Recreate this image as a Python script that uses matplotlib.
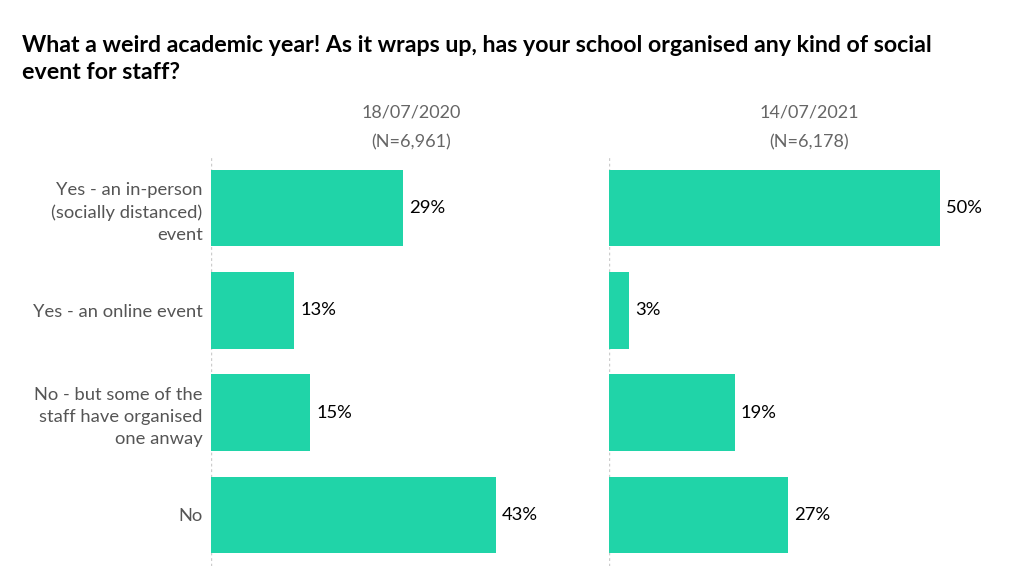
import matplotlib
matplotlib.use("Agg")
import matplotlib.pyplot as plt

categories = ["Yes - an in-person\n(socially distanced)\nevent", "Yes - an online event",
              "No - but some of the\nstaff have organised\none anway", "No"]
dates = ["18/07/2020", "14/07/2021"]
ns = ["(N=6,961)", "(N=6,178)"]
values_2020 = [29, 12.6, 15, 43]
values_2021 = [50, 3, 19, 27]
labels_2020 = ["29%", "13%", "15%", "43%"]
labels_2021 = ["50%", "3%", "19%", "27%"]
title = "What a weird academic year! As it wraps up, has your school organised any kind of social\nevent for staff?"

plt.rcParams['font.family'] = ['Lato', 'DejaVu Sans']
W, H = 1024, 585
fig = plt.figure(figsize=(W/100, H/100), dpi=100)
color = "#20D4A8"

def px(x0, y0, x1, y1):
    return [x0/W, 1 - y1/H, (x1-x0)/W, (y1-y0)/H]

panels = [(211, values_2020, labels_2020), (609, values_2021, labels_2021)]
xmax = 56.5
fs = 13.2
for i, (x0, vals, labs) in enumerate(panels):
    ax = fig.add_axes(px(x0, 157, x0 + 374, 566))
    ys = list(range(len(categories)))
    ax.barh(ys, vals, height=0.75, color=color, edgecolor='none')
    ax.set_xlim(0, xmax)
    ax.set_ylim(len(categories) - 0.5, -0.5)
    for s in ax.spines.values():
        s.set_visible(False)
    ax.axvline(0, color="#cccccc", lw=1, ls=(0, (2, 2)), zorder=0)
    ax.set_xticks([])
    ax.tick_params(axis='y', length=0, pad=6)
    if i == 0:
        ax.set_yticks(ys)
        ax.set_yticklabels(categories, fontsize=fs, color="#555555", linespacing=1.45, ha='right')
    else:
        ax.set_yticks([])
    for y, v, l in zip(ys, vals, labs):
        ax.text(v + 0.9, y, l, va='center', ha='left', fontsize=fs, color="#000000")
    fig.text((x0 + 200)/W, 1 - 113/H, dates[i], ha='center', va='center', fontsize=13, color="#666666")
    fig.text((x0 + 200)/W, 1 - 142/H, ns[i], ha='center', va='center', fontsize=13, color="#666666")

fig.text(22/W, 1 - 59/H, title, ha='left', va='center', fontsize=16.7, fontweight='bold',
         color="#000000", linespacing=1.38)

fig.savefig("out.png", dpi=100, facecolor='white')
